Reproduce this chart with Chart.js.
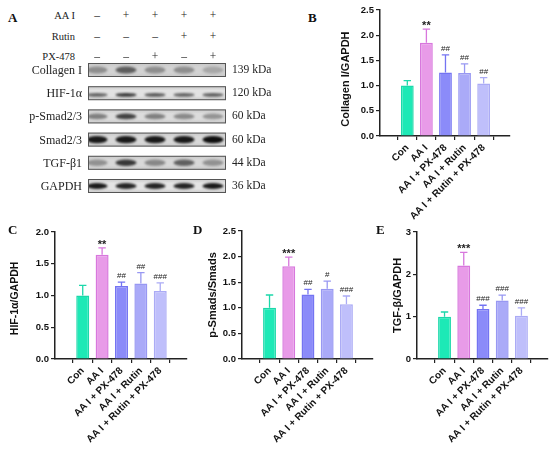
<!DOCTYPE html>
<html lang="en">
<head>
<meta charset="utf-8">
<title>AA I / Rutin / PX-478 western blot</title>
<script src="https://cdn.jsdelivr.net/npm/chart.js@4.4.1/dist/chart.umd.min.js"></script>
<style>
  html, body { margin: 0; padding: 0; background: #fff; }
  body { position: relative; width: 550px; height: 450px; overflow: hidden; }
  canvas, .txt { position: absolute; }
  .txt {
    font-family: "Liberation Serif", "Times New Roman", serif;
    font-size: 11.5px;
    color: #222;
    white-space: nowrap;
    line-height: 1;
  }
  .head { font-size: 10.5px; }
  .prot { font-size: 12px; }
  .panel { font-weight: bold; font-size: 13px; color: #111; }
</style>
</head>
<body>
<canvas id="blot" width="144" height="140" style="left:86px;top:60px"></canvas>
<canvas id="chartB" width="180" height="225" style="left:335px;top:0px"></canvas>
<canvas id="chartC" width="185" height="228" style="left:5px;top:222px"></canvas>
<canvas id="chartD" width="174" height="228" style="left:202px;top:222px"></canvas>
<canvas id="chartE" width="163" height="228" style="left:387px;top:222px"></canvas>

<script>
// groups on the x axis of every bar chart
const groups = ["Con", "AA I", "AA I + PX-478", "AA I + Rutin", "AA I + Rutin + PX-478"];

// B: Collagen I / GAPDH
const collagenMean = [1.0, 1.85, 1.26, 1.25, 1.04];
const collagenSd = [0.1, 0.27, 0.35, 0.18, 0.12];
const collagenMarks = ["", "**", "##", "##", "##"];

// C: HIF-1a / GAPDH
const hifMean = [1.0, 1.64, 1.15, 1.19, 1.07];
const hifSd = [0.16, 0.11, 0.06, 0.17, 0.13];
const hifMarks = ["", "**", "##", "##", "###"];

// D: p-Smads / Smads
const smadMean = [1.0, 1.81, 1.26, 1.37, 1.07];
const smadSd = [0.25, 0.18, 0.1, 0.15, 0.16];
const smadMarks = ["", "***", "##", "#", "###"];

// E: TGF-b / GAPDH
const tgfMean = [1.0, 2.21, 1.18, 1.38, 1.02];
const tgfSd = [0.11, 0.31, 0.09, 0.13, 0.19];
const tgfMarks = ["", "***", "###", "###", "###"];

// A: blot legend
const treatments = ["AA I", "Rutin", "PX-478"];
const treatmentSigns = [
  ["–", "+", "+", "+", "+"],
  ["–", "–", "–", "+", "+"],
  ["–", "–", "+", "–", "+"],
];
const proteins = ["Collagen I", "HIF-1α", "p-Smad2/3", "Smad2/3", "TGF-β1", "GAPDH"];
const weights = ["139 kDa", "120 kDa", "60 kDa", "60 kDa", "44 kDa", "36 kDa"];
const bandDensity = [
  [0.35, 0.6, 0.35, 0.35, 0.22],
  [0.6, 0.8, 0.65, 0.6, 0.62],
  [0.45, 0.75, 0.45, 0.4, 0.35],
  [0.95, 0.95, 0.95, 0.95, 1.0],
  [0.35, 0.8, 0.4, 0.6, 0.35],
  [0.95, 0.9, 0.9, 0.9, 0.95],
];

// styles
const fills = ["#1de9b6", "#e89be8", "#8b8bf9", "#aaaaf8", "#bfbffb"];
const borders = ["#1cd8aa", "#d877dd", "#7474f2", "#9898f2", "#ababf5"];
const rowTone = ["#d2d2d2", "#e2e2e2", "#dcdcdc", "#d8d8d8", "#d8d8d8", "#e4e4e4"];
const bandHalfH = [3.5, 1.8, 2.8, 3.6, 3.2, 3.0];
const bandYFrac = [0.5, 0.62, 0.5, 0.5, 0.5, 0.5];

function addText(text, x, y, align, cls) {
  const el = document.createElement("div");
  el.className = "txt" + (cls ? " " + cls : "");
  el.textContent = text;
  el.style.top = y + "px";
  if (align === "right") {
    el.style.right = 550 - x + "px";
    el.style.transform = "translateY(-50%)";
  } else if (align === "center") {
    el.style.left = x + "px";
    el.style.transform = "translate(-50%, -50%)";
  } else {
    el.style.left = x + "px";
    el.style.transform = "translateY(-50%)";
  }
  document.body.appendChild(el);
}

// ---- panel A ----
const laneStart = 97;
const lanePitch = 29;
const rowTop = 63;
const rowGap = 23.2;
const boxH = 14;

treatments.forEach((t, r) => {
  const y = 16 + r * 20.5;
  addText(t, 75, y, "right", "head");
  treatmentSigns[r].forEach((s, i) => addText(s, laneStart + i * lanePitch, y, "center"));
});

proteins.forEach((p, r) => {
  const y = rowTop + r * rowGap + boxH / 2;
  addText(p, 82, y, "right", "prot");
  addText(weights[r], 232, y, "left");
});

const bctx = document.getElementById("blot").getContext("2d");
proteins.forEach((p, r) => {
  const y0 = rowTop - 60 + r * rowGap;
  const grad = bctx.createLinearGradient(0, y0, 0, y0 + boxH);
  grad.addColorStop(0, "#c8c8c8");
  grad.addColorStop(0.3, rowTone[r]);
  grad.addColorStop(0.7, rowTone[r]);
  grad.addColorStop(1, "#c8c8c8");
  bctx.fillStyle = grad;
  bctx.fillRect(2, y0, 138, boxH);

  bctx.save();
  bctx.beginPath();
  bctx.rect(2, y0, 138, boxH);
  bctx.clip();
  bctx.filter = "blur(1.3px)";
  bandDensity[r].forEach((d, i) => {
    const cx = laneStart - 86 + i * lanePitch;
    const cy = y0 + boxH * bandYFrac[r];
    bctx.fillStyle = `rgba(15,15,15,${d})`;
    bctx.beginPath();
    bctx.ellipse(cx, cy, 10.5, bandHalfH[r], 0, 0, Math.PI * 2);
    bctx.fill();
  });
  bctx.restore();

  bctx.strokeStyle = "#555";
  bctx.lineWidth = 1;
  bctx.strokeRect(2.5, y0 + 0.5, 137, boxH - 1);
});

addText("A", 8, 17, "left", "panel");
addText("B", 308, 17, "left", "panel");
addText("C", 8, 229, "left", "panel");
addText("D", 193, 229, "left", "panel");
addText("E", 376, 229, "left", "panel");

// ---- bar charts ----
Chart.defaults.font.family = "'Liberation Sans', Arial, sans-serif";
Chart.defaults.color = "#111";

const errorBars = {
  id: "errorBars",
  afterDatasetsDraw(chart, args, opts) {
    const { ctx } = chart;
    const yScale = chart.scales.y;
    const meta = chart.getDatasetMeta(0);
    ctx.save();
    meta.data.forEach((bar, i) => {
      const top = yScale.getPixelForValue(opts.mean[i] + opts.sd[i]);
      ctx.strokeStyle = borders[i];
      ctx.lineWidth = 1.3;
      ctx.beginPath();
      ctx.moveTo(bar.x, bar.y);
      ctx.lineTo(bar.x, top);
      ctx.moveTo(bar.x - 3.7, top);
      ctx.lineTo(bar.x + 3.7, top);
      ctx.stroke();

      const mark = opts.marks[i];
      if (!mark) return;
      ctx.textAlign = "center";
      ctx.textBaseline = "alphabetic";
      ctx.fillStyle = "#222";
      if (mark.includes("*")) {
        ctx.font = "bold 11px 'Liberation Sans', Arial";
        ctx.fillText(mark, bar.x, top);
      } else {
        ctx.font = "8px 'Liberation Sans', Arial";
        ctx.fillText(mark, bar.x, top - 4);
      }
    });
    ctx.restore();
  },
};

function barChart(id, mean, sd, marks, yMax, yStep, digits, title, titleSize, yWidth, xHeight, padTop, padRight) {
  new Chart(document.getElementById(id), {
    type: "bar",
    data: {
      datasets: [
        {
          data: groups.map((g, i) => ({ x: i + 1, y: mean[i] })),
          backgroundColor: fills,
          borderColor: borders,
          borderWidth: 1.5,
          categoryPercentage: 1,
          barPercentage: 0.67,
        },
      ],
    },
    options: {
      responsive: false,
      animation: false,
      layout: { padding: { top: padTop, right: padRight, left: 0, bottom: 0 } },
      plugins: {
        legend: { display: false },
        tooltip: { enabled: false },
        errorBars: { mean, sd, marks },
      },
      scales: {
        x: {
          type: "linear",
          min: 0.25,
          max: 5.7,
          afterBuildTicks: (axis) => {
            axis.ticks = groups.map((g, i) => ({ value: i + 1 }));
          },
          afterFit: (axis) => {
            axis.height = xHeight;
          },
          grid: { drawOnChartArea: false, drawTicks: true, tickLength: 4, color: "#222", lineWidth: 1.2 },
          border: { display: true, color: "#222", width: 1.5 },
          ticks: {
            autoSkip: false,
            minRotation: 45,
            maxRotation: 45,
            padding: 2,
            font: { size: 10, weight: "bold" },
            callback: (value) => groups[value - 1],
          },
        },
        y: {
          min: 0,
          max: yMax,
          afterFit: (axis) => {
            axis.width = yWidth;
          },
          grid: { drawOnChartArea: false, drawTicks: true, tickLength: 4, color: "#222", lineWidth: 1.2 },
          border: { display: true, color: "#222", width: 1.5 },
          ticks: {
            stepSize: yStep,
            padding: 2,
            font: { size: 9.5, weight: "bold" },
            callback: (value) => value.toFixed(digits),
          },
          title: {
            display: true,
            text: title,
            font: { size: titleSize, weight: "bold" },
          },
        },
      },
    },
    plugins: [errorBars],
  });
}

barChart("chartB", collagenMean, collagenSd, collagenMarks, 2.5, 0.5, 1, "Collagen I/GAPDH\u00a0\u00a0\u00a0\u00a0", 11, 45, 89, 10, 5);
barChart("chartC", hifMean, hifSd, hifMarks, 2.0, 0.5, 1, "HIF-1α/GAPDH\u00a0\u00a0", 10.5, 50, 91, 10, 3);
barChart("chartD", smadMean, smadSd, smadMarks, 2.5, 0.5, 1, "p-Smads/Smads", 11, 40, 91, 9, 3);
barChart("chartE", tgfMean, tgfSd, tgfMarks, 3, 1, 0, "TGF-β/GAPDH", 11, 30, 91, 10, 2);
</script>
</body>
</html>
